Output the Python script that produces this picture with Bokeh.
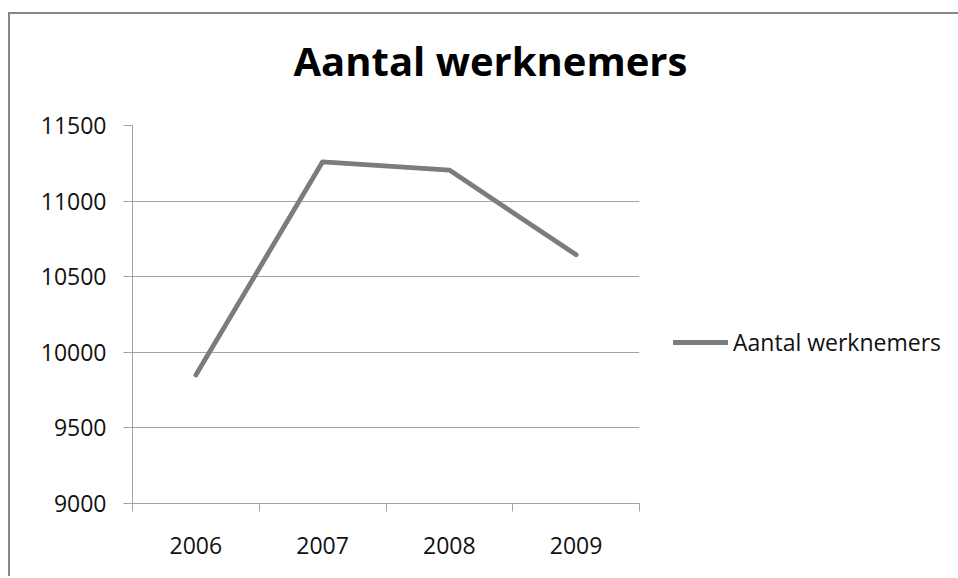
from bokeh.plotting import figure
from bokeh.models import Range1d, FixedTicker, Legend, LegendItem, Title, ColumnDataSource
from bokeh.embed import file_html
from bokeh.resources import INLINE

# ---- data ----
years = ["2006", "2007", "2008", "2009"]
werknemers = [9850, 11260, 11205, 10645]
y_ticks = [9000, 9500, 10000, 10500, 11000, 11500]
title_text = "Aantal werknemers"
series_name = "Aantal werknemers"

FONT = "Open Sans"
GRID = "#a3a3a3"
LINE = "#7c7c7c"

positions = [i + 0.5 for i in range(len(years))]
source = ColumnDataSource(data=dict(x=positions, y=werknemers, year=years))

p = figure(frame_width=507, frame_height=378, output_backend="svg", toolbar_location=None,
           x_range=Range1d(0, len(years)), y_range=Range1d(y_ticks[0], y_ticks[-1]),
           min_border_left=122, min_border_right=317, min_border_top=111, min_border_bottom=73)
p.styles = {"border-top": "2px solid #878787", "border-left": "2px solid #878787",
            "margin-top": "12px", "margin-left": "8px"}
p.outline_line_color = None
p.background_fill_color = "white"
p.border_fill_color = "white"

r = p.line("x", "y", source=source, line_color=LINE, line_width=4.8,
           line_cap="round", line_join="round")

# x axis: labels at centres, ticks at category boundaries
p.xaxis.ticker = FixedTicker(ticks=positions, minor_ticks=list(range(len(years) + 1)))
p.xaxis.major_label_overrides = {pos: yr for pos, yr in zip(positions, years)}
p.xaxis.major_tick_out = 0
p.xaxis.major_tick_in = 0
p.xaxis.minor_tick_out = 8
p.xaxis.minor_tick_in = 0
p.xaxis.minor_tick_line_color = GRID
p.xaxis.axis_line_color = GRID
p.xaxis.major_label_standoff = 25
p.xaxis.major_label_text_font = FONT
p.xaxis.major_label_text_font_size = "23px"
p.xaxis.major_label_text_color = "#111111"
p.xgrid.visible = False

# y axis
p.yaxis.ticker = FixedTicker(ticks=y_ticks)
p.yaxis.major_tick_out = 9
p.yaxis.major_tick_in = 0
p.yaxis.minor_tick_line_color = None
p.yaxis.major_tick_line_color = GRID
p.yaxis.axis_line_color = GRID
p.yaxis.major_label_standoff = 17
p.yaxis.major_label_text_font = FONT
p.yaxis.major_label_text_font_size = "23px"
p.yaxis.major_label_text_color = "#111111"
p.ygrid.ticker = FixedTicker(ticks=y_ticks)
p.ygrid.grid_line_color = GRID
p.ygrid.grid_line_width = 1

# title (outermost panel) plus a blank spacer panel between it and the plot area
p.title = Title(text=title_text, align="left", offset=161, standoff=0,
                text_font=FONT, text_font_style="bold", text_font_size="40px",
                text_color="black")
p.add_layout(Title(text=" ", text_font=FONT, text_font_size="20px", standoff=9), "above")

# legend
legend = Legend(items=[LegendItem(label=series_name, renderers=[r])],
                location=(34, 145), glyph_width=55, glyph_height=24,
                label_standoff=5, padding=0, margin=0, spacing=0,
                border_line_color=None, background_fill_alpha=0,
                label_text_font=FONT, label_text_font_size="23px",
                label_text_color="#111111")
p.add_layout(legend, "right")

open("out.html", "w").write(file_html(p, INLINE))
